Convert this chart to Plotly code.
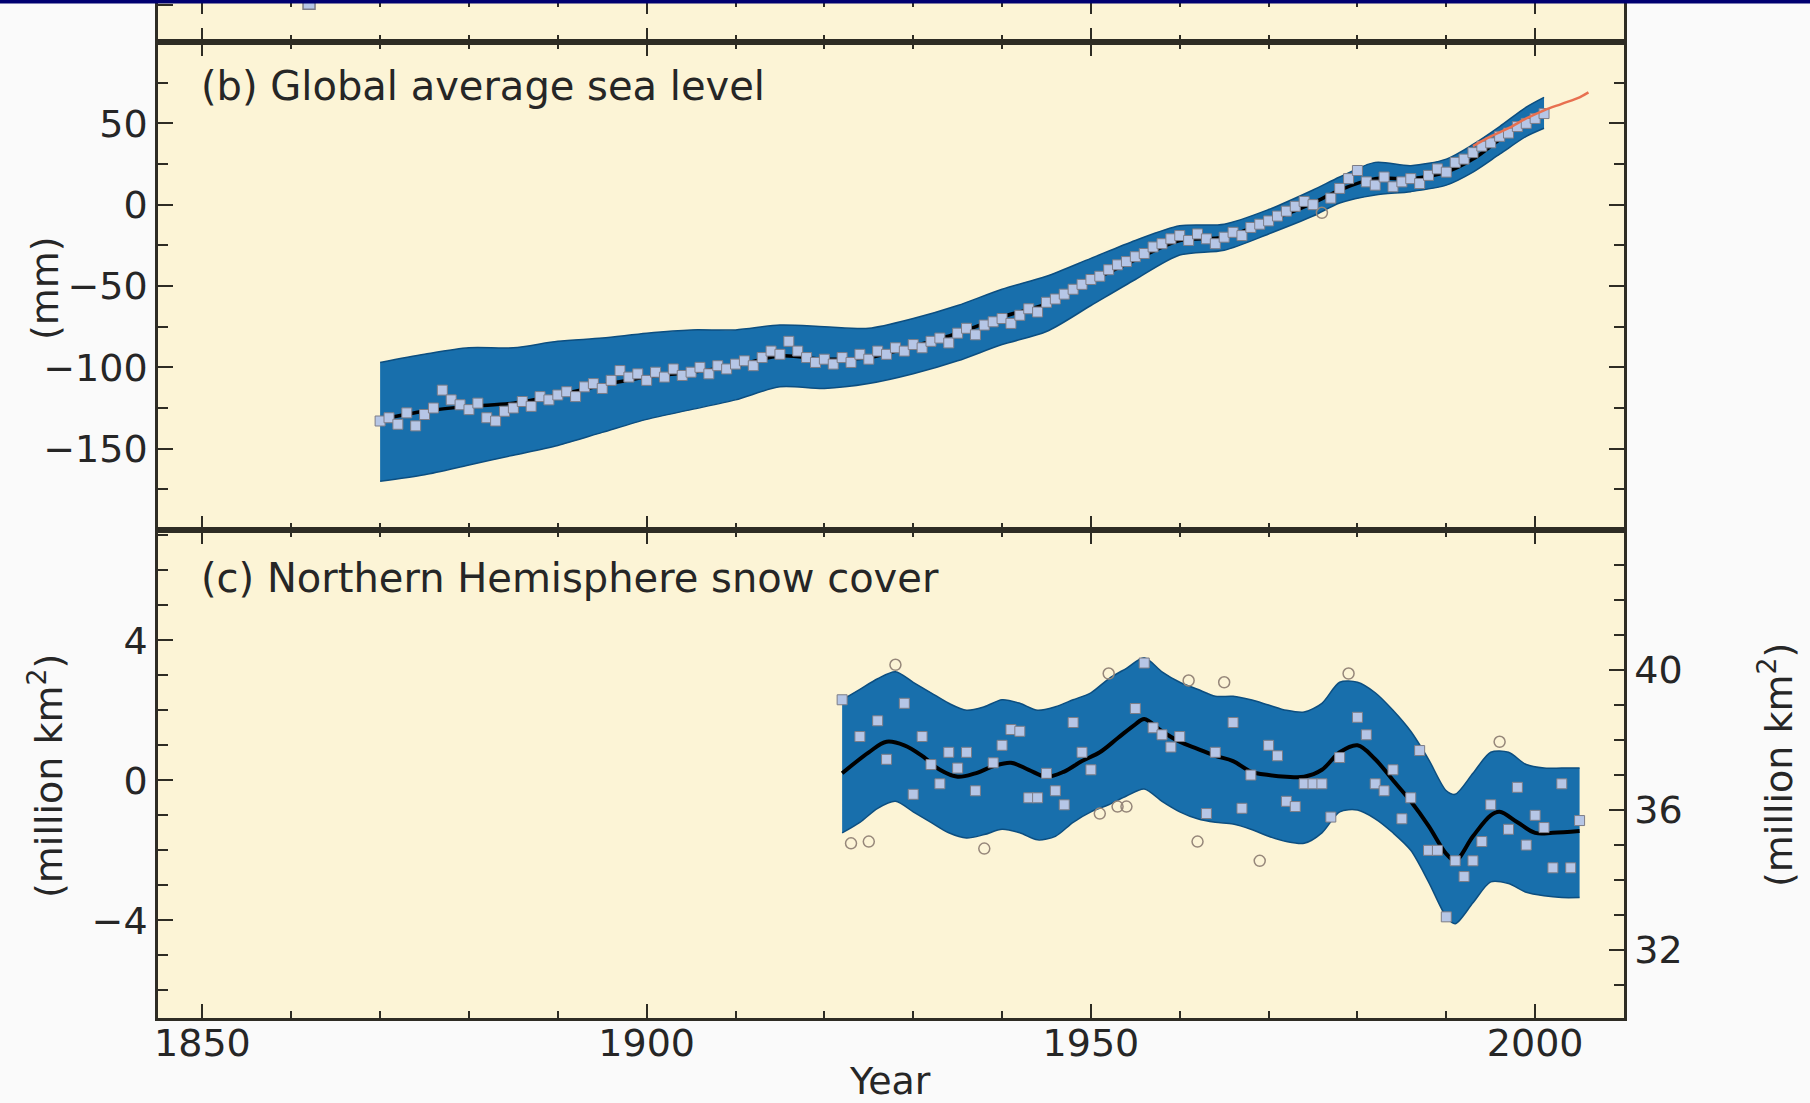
import plotly.graph_objects as go
import numpy as np

# ---------------- data ----------------
# Panel (a): only the bottom edge of the panel is visible
temp_years = [1862]
temp_values = [-0.58]

# Panel (b): global average sea level (mm)
sea_years = list(range(1870, 2002))
sea_values = [
    -133, -131, -135, -128, -136, -129, -125, -114, -120, -123,
    -126, -122, -131, -133, -127, -125, -121, -124, -118, -120,
    -117, -115, -118, -112, -110, -113, -108, -102, -106, -104,
    -108, -103, -106, -101, -105, -103, -100, -104, -99, -101,
    -98, -96, -99, -94, -90, -92, -84, -90, -94, -97,
    -95, -98, -94, -97, -92, -95, -90, -92, -88, -90,
    -86, -88, -84, -82, -85, -79, -76, -80, -74, -72,
    -70, -73, -68, -64, -66, -60, -58, -55, -52, -49,
    -46, -44, -40, -37, -35, -32, -30, -26, -24, -21,
    -19, -22, -18, -21, -24, -20, -17, -19, -14, -12,
    -10, -7, -4, -1, 2, 0, -5, 4, 10, 16,
    21, 14, 12, 17, 11, 14, 16, 13, 18, 22,
    20, 26, 28, 32, 36, 38, 42, 44, 48, 50,
    53, 56,
]
sea_smooth_years = [1870, 1875, 1880, 1885, 1890, 1895, 1900, 1905, 1910, 1915,
                    1920, 1925, 1930, 1935, 1940, 1945, 1950, 1955, 1960, 1965,
                    1970, 1975, 1978, 1982, 1986, 1990, 1993, 1996, 1999, 2001]
sea_smooth_values = [-132, -127, -124, -122, -117, -111, -106, -103, -99, -93,
                     -95, -94, -87, -79, -69, -61, -47, -34, -22, -20,
                     -10, 1, 9, 16, 16, 20, 28, 40, 51, 56]
sea_band_years = [1870, 1875, 1880, 1885, 1890, 1895, 1900, 1905, 1910, 1915,
                  1920, 1925, 1930, 1935, 1940, 1945, 1950, 1955, 1960, 1965,
                  1970, 1975, 1978, 1982, 1986, 1990, 1993, 1996, 1999, 2001]
sea_band_upper = [-97, -92, -88, -88, -84, -82, -79, -77, -77, -74,
                  -75, -76, -70, -62, -52, -44, -33, -22, -13, -12,
                  -3, 9, 17, 26, 24, 28, 37, 48, 60, 66]
sea_band_lower = [-170, -166, -160, -154, -148, -140, -132, -126, -120, -112,
                  -113, -110, -104, -96, -86, -78, -62, -46, -31, -28,
                  -18, -7, 1, 6, 8, 12, 20, 31, 42, 47]
sat_years = [1993, 1995, 1997, 1999, 2001, 2003, 2005, 2006]
sat_values = [36, 42, 47, 53, 58, 62, 66, 69]

# Panel (c): Northern Hemisphere snow cover (million km2, anomaly)
snow_years = list(range(1922, 2006))
snow_values = [
    2.3, -1.8, 1.25, -1.75, 1.7, 0.6, 3.3, 2.2, -0.4, 1.25,
    0.45, -0.1, 0.8, 0.35, 0.8, -0.3, -1.95, 0.5, 1.0, 1.45,
    1.4, -0.5, -0.5, 0.2, -0.3, -0.7, 1.65, 0.8, 0.3, -0.95,
    3.05, -0.75, -0.75, 2.05, 3.35, 1.5, 1.3, 0.95, 1.25, 2.85,
    -1.75, -0.95, 0.8, 2.8, 1.65, -0.8, 0.15, -2.3, 1.0, 0.7,
    -0.6, -0.75, -0.1, -0.1, -0.1, -1.05, 0.65, 3.05, 1.8, 1.3,
    -0.1, -0.3, 0.3, -1.1, -0.5, 0.85, -2.0, -2.0, -3.9, -2.3,
    -2.75, -2.3, -1.75, -0.7, 1.1, -1.4, -0.2, -1.85, -1.0, -1.35,
    -2.5, -0.1, -2.5, -1.15,
]
snow_smooth_years = [1922, 1925, 1927, 1929, 1931, 1933, 1935, 1937, 1939, 1941,
                     1943, 1945, 1947, 1949, 1951, 1953, 1955, 1956, 1958, 1960,
                     1962, 1964, 1966, 1968, 1970, 1972, 1974, 1976, 1978, 1980,
                     1982, 1984, 1986, 1988, 1990, 1991, 1993, 1995, 1996, 1998,
                     2000, 2002, 2005]
snow_smooth_values = [0.2, 0.8, 1.1, 1.0, 0.7, 0.3, 0.1, 0.2, 0.4, 0.5,
                      0.3, 0.1, 0.25, 0.55, 0.8, 1.2, 1.6, 1.75, 1.4, 1.1,
                      0.9, 0.7, 0.55, 0.25, 0.15, 0.1, 0.1, 0.3, 0.8, 1.0,
                      0.6, 0.0, -0.6, -1.3, -2.1, -2.3, -1.6, -1.0, -0.9, -1.2,
                      -1.5, -1.5, -1.45]
snow_band_years = [1922, 1924, 1926, 1928, 1930, 1932, 1934, 1936, 1938, 1940,
                   1942, 1944, 1946, 1948, 1950, 1952, 1954, 1956, 1958, 1960,
                   1962, 1964, 1966, 1968, 1970, 1972, 1974, 1976, 1978, 1980,
                   1982, 1984, 1986, 1988, 1990, 1991, 1993, 1995, 1997, 1999,
                   2001, 2003, 2005]
snow_band_upper = [2.3, 2.6, 2.9, 3.1, 2.8, 2.5, 2.2, 2.0, 2.1, 2.3,
                   2.2, 2.0, 2.1, 2.3, 2.5, 2.9, 3.2, 3.5, 3.1, 2.8,
                   2.6, 2.4, 2.4, 2.3, 2.15, 2.0, 1.95, 2.2, 2.8, 2.8,
                   2.5, 2.0, 1.4, 0.6, -0.3, -0.4, 0.2, 0.8, 0.8, 0.45,
                   0.35, 0.35, 0.35]
snow_band_lower = [-1.5, -1.2, -0.8, -0.6, -0.9, -1.2, -1.5, -1.65, -1.55, -1.4,
                   -1.5, -1.7, -1.6, -1.2, -0.9, -0.7, -0.45, -0.25, -0.6, -0.9,
                   -1.1, -1.2, -1.25, -1.4, -1.6, -1.75, -1.8, -1.5, -0.9, -0.85,
                   -1.1, -1.5, -2.0, -2.9, -3.9, -4.1, -3.5, -2.9, -2.95, -3.2,
                   -3.3, -3.35, -3.35]

# Axis ticks / labels
x_major_ticks = [1850, 1900, 1950, 2000]
sea_ticks = [-150, -100, -50, 0, 50]
snow_ticks_left = [-4, 0, 4]
snow_ticks_right = [32, 36, 40]
snow_offset = 36.84  # absolute snow cover = anomaly + offset

# ---------------- styling ----------------
W, H = 1810, 1103
L, R, B, T = 158, 186, 85, 0
PW, PH = W - L - R, H - B - T

def px(x):
    return (x - L) / PW

def py(y):
    return (H - B - y) / PH

FONT = "DejaVu Sans"
TXT = "#262626"
AX = "#2e2c24"
BAND = "rgb(24,111,172)"
BAND_EDGE = "rgb(12,78,128)"
MK_FILL = "rgb(182,198,230)"
MK_LINE = "rgb(125,125,135)"
OUT_MK = "rgb(150,135,122)"

dom_a = [py(42), 1.0]
dom_b = [py(530), py(42)]
dom_c = [0.0, py(530)]

fig = go.Figure()

def add_band(years, upper, lower, xa, ya):
    fig.add_trace(go.Scatter(x=years, y=upper, mode="lines",
                             line=dict(color=BAND_EDGE, width=1.5, shape="spline", smoothing=0.8),
                             xaxis=xa, yaxis=ya, showlegend=False, hoverinfo="skip"))
    fig.add_trace(go.Scatter(x=years, y=lower, mode="lines", fill="tonexty", fillcolor=BAND,
                             line=dict(color=BAND_EDGE, width=1.5, shape="spline", smoothing=0.8),
                             xaxis=xa, yaxis=ya, showlegend=False, hoverinfo="skip"))

def add_points(years, values, band_years, upper, lower, xa, ya):
    yrs = np.array(years, dtype=float)
    vals = np.array(values, dtype=float)
    up = np.interp(yrs, band_years, upper)
    lo = np.interp(yrs, band_years, lower)
    inside = (vals <= up) & (vals >= lo)
    fig.add_trace(go.Scatter(x=yrs[inside], y=vals[inside], mode="markers",
                             marker=dict(symbol="square", size=10, color=MK_FILL,
                                         line=dict(color=MK_LINE, width=1)),
                             xaxis=xa, yaxis=ya, showlegend=False))
    fig.add_trace(go.Scatter(x=yrs[~inside], y=vals[~inside], mode="markers",
                             marker=dict(symbol="circle-open", size=11, color=OUT_MK,
                                         line=dict(color=OUT_MK, width=1.5)),
                             xaxis=xa, yaxis=ya, showlegend=False))

# panel a
fig.add_trace(go.Scatter(x=temp_years, y=temp_values, mode="markers",
                         marker=dict(symbol="square", size=12, color=MK_FILL,
                                     line=dict(color=MK_LINE, width=1.5)),
                         xaxis="x", yaxis="y", showlegend=False))

# panel b
add_band(sea_band_years, sea_band_upper, sea_band_lower, "x2", "y2")
fig.add_trace(go.Scatter(x=sea_smooth_years, y=sea_smooth_values, mode="lines",
                         line=dict(color="black", width=3.5, shape="spline"),
                         xaxis="x2", yaxis="y2", showlegend=False))
add_points(sea_years, sea_values, sea_band_years, sea_band_upper, sea_band_lower, "x2", "y2")
fig.add_trace(go.Scatter(x=sat_years, y=sat_values, mode="lines",
                         line=dict(color="rgb(232,112,80)", width=2.5, shape="spline"),
                         xaxis="x2", yaxis="y2", showlegend=False))

# panel c
add_band(snow_band_years, snow_band_upper, snow_band_lower, "x3", "y3")
fig.add_trace(go.Scatter(x=snow_smooth_years, y=snow_smooth_values, mode="lines",
                         line=dict(color="black", width=4, shape="spline"),
                         xaxis="x3", yaxis="y3", showlegend=False))
add_points(snow_years, snow_values, snow_band_years, snow_band_upper, snow_band_lower, "x3", "y3")
# empty trace so that the right-hand absolute-area axis is drawn
fig.add_trace(go.Scatter(x=[None], y=[None], mode="markers", xaxis="x3", yaxis="y4",
                         showlegend=False, hoverinfo="skip"))

tickfont = dict(family=FONT, size=38, color=TXT)

def xaxis_cfg(anchor, labels):
    return dict(domain=[0, 1], anchor=anchor, range=[1845, 2010], automargin=False,
                showline=True, linecolor=AX, linewidth=2.5, mirror="ticks",
                ticks="inside", ticklen=14, tickwidth=1.8, tickcolor=AX,
                tickvals=x_major_ticks, showticklabels=labels, tickfont=tickfont,
                minor=dict(tick0=1850, dtick=10, ticks="inside", ticklen=7,
                           tickwidth=1.6, tickcolor=AX),
                showgrid=False, zeroline=False)

def yaxis_cfg(domain, rng, tickvals, minor_dtick, labels, mirror):
    return dict(domain=domain, range=rng, automargin=False,
                showline=True, linecolor=AX, linewidth=2.5,
                mirror=mirror, ticks="inside", ticklen=15, tickwidth=1.8, tickcolor=AX,
                tickvals=tickvals, showticklabels=labels, tickfont=tickfont,
                minor=(dict(dtick=minor_dtick, tick0=0, ticks="inside", ticklen=10,
                            tickwidth=1.6, tickcolor=AX) if minor_dtick else None),
                showgrid=False, zeroline=False)

layout = dict(
    width=W, height=H,
    margin=dict(l=L, r=R, t=T, b=B, pad=0, autoexpand=False),
    paper_bgcolor="rgb(250,250,250)",
    plot_bgcolor="rgb(252,244,214)",
    xaxis=xaxis_cfg("y", False),
    xaxis2=xaxis_cfg("y2", False),
    xaxis3=dict(xaxis_cfg("y3", True), ticklabelstandoff=-10),
    yaxis=yaxis_cfg(dom_a, [-0.95, -0.55], [-0.6], None, False, True),
    yaxis2=yaxis_cfg(dom_b, [-200, 100], sea_ticks, 25, True, "ticks"),
    yaxis3=yaxis_cfg(dom_c, [-6.79, 7.15], snow_ticks_left, 1, True, False),
    yaxis4=dict(yaxis_cfg(dom_c, [-6.79 + snow_offset, 7.15 + snow_offset],
                          snow_ticks_right, 1, True, False),
                overlaying="y3", side="right", anchor="x3"),
    showlegend=False,
)
fig.update_layout(**layout)

# navy strip at the very top
fig.add_shape(type="rect", xref="paper", yref="paper",
              x0=px(0), x1=px(W), y0=py(3.5), y1=py(0),
              fillcolor="rgb(0,0,112)", line=dict(width=0), layer="above")

ann_font = dict(family=FONT, size=38, color=TXT)
annotations = [
    dict(text="(b) Global average sea level", x=px(199), y=py(86),
         xanchor="left", yanchor="middle", font=dict(family=FONT, size=40, color=TXT)),
    dict(text="(c) Northern Hemisphere snow cover", x=px(199), y=py(578),
         xanchor="left", yanchor="middle", font=dict(family=FONT, size=40, color=TXT)),
    dict(text="(mm)", x=px(45), y=py(288), textangle=-90,
         xanchor="center", yanchor="middle", font=ann_font),
    dict(text="(million km<sup>2</sup>)", x=px(46), y=py(776), textangle=-90,
         xanchor="center", yanchor="middle", font=ann_font),
    dict(text="(million km<sup>2</sup>)", x=px(1776), y=py(765), textangle=-90,
         xanchor="center", yanchor="middle", font=ann_font),
    dict(text="Year", x=px(890), y=py(1081),
         xanchor="center", yanchor="middle", font=ann_font),
]
for a in annotations:
    a.update(xref="paper", yref="paper", showarrow=False)
fig.update_layout(annotations=annotations)

# place the figure flush with the page's top-left corner, no mode bar
fig.write_html("out.html",
               config={"displayModeBar": False},
               post_script="document.body.style.margin='0';document.body.style.padding='0';"
                           "document.body.style.overflow='hidden';")
